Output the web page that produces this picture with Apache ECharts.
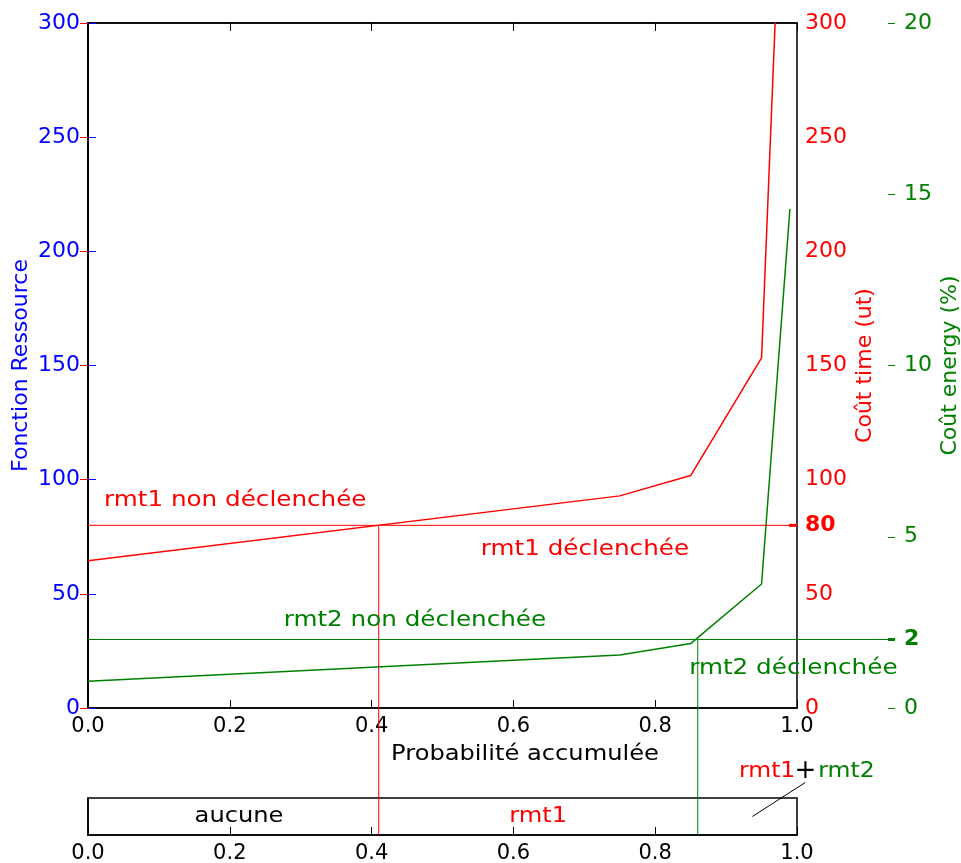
<!DOCTYPE html>
<html>
<head>
<meta charset="utf-8">
<script src="https://cdn.jsdelivr.net/npm/echarts@6/dist/echarts.min.js"></script>
<style>html,body{margin:0;padding:0;background:#fff;}#c{width:961px;height:863px;}</style>
</head>
<body>
<div id="c"></div>
<script>
// ---- data ----
const probs = [0, 0.75, 0.85, 0.95, 0.99];
const timeCost = [64.5, 92.9, 101.8, 153.3, 460];
const energyCost = [0.78, 1.55, 1.88, 3.62, 14.57];
const xTicks = [0, 0.2, 0.4, 0.6, 0.8, 1.0];
const rmt1Threshold = 80;   // time cost threshold (ut)
const rmt2Threshold = 2;    // energy cost threshold (%)
const rmt1Prob = 0.41;
const rmt2Prob = 0.86;
const zoneLabels = ['aucune', 'rmt1'];
const zoneCenters = [0.213, 0.635];
const bothAnchor = [0.937, 0.5];

const BLUE = '#0000ff', RED = '#ff0000', GREEN = '#008000', FONT = 'DejaVu Sans';
const GREEN_OFFSET = 91;

const chart = echarts.init(document.getElementById('c'), null, {renderer: 'canvas'});

function xAxisBase(grid, pos, showLabel) {
  return {
    type: 'value', gridIndex: grid, position: pos, min: xTicks[0], max: xTicks[xTicks.length - 1], interval: 0.2,
    axisLine: {show: true, onZero: false, lineStyle: {color: '#000', width: 1.5}},
    axisTick: {show: true, inside: true, length: 8, lineStyle: {color: '#000'}},
    axisLabel: {show: showLabel, color: '#000', fontSize: 21, fontFamily: FONT, margin: 8,
      formatter: v => v.toFixed(1)},
    splitLine: {show: false}
  };
}

const option = {
  animation: false,
  backgroundColor: '#fff',
  grid: [
    {left: 88, top: 23, width: 709, height: 685, show: true, borderColor: '#000', borderWidth: 1.5,
      containLabel: false, outerBoundsMode: 'none'},
    {left: 88, top: 798, width: 709, height: 37, show: true, borderColor: '#000', borderWidth: 1.5,
      containLabel: false, outerBoundsMode: 'none'}
  ],
  xAxis: [
    xAxisBase(0, 'bottom', true),
    xAxisBase(0, 'top', false),
    xAxisBase(1, 'bottom', true)
  ],
  yAxis: [
    {type: 'value', gridIndex: 0, position: 'left', min: 0, max: 300, interval: 50,
      name: 'Fonction Ressource', nameLocation: 'middle', nameGap: 56, nameMoveOverlap: false,
      nameTextStyle: {color: BLUE, fontSize: 22, fontFamily: FONT},
      axisLine: {show: true, lineStyle: {color: '#000', width: 1.5}},
      axisTick: {show: true, inside: true, length: 8, lineStyle: {color: BLUE, width: 1}},
      axisLabel: {color: BLUE, fontSize: 22, fontFamily: FONT, margin: 8},
      splitLine: {show: false}},
    {type: 'value', gridIndex: 0, position: 'right', min: 0, max: 300, interval: 50,
      name: 'Coût time (ut)', nameLocation: 'middle', nameGap: 57, nameMoveOverlap: false,
      nameTextStyle: {color: RED, fontSize: 22, fontFamily: FONT},
      axisLine: {show: true, lineStyle: {color: '#000', width: 1.5}},
      axisTick: {show: true, inside: true, length: 8, lineStyle: {color: RED, width: 1}},
      axisLabel: {color: RED, fontSize: 22, fontFamily: FONT, margin: 8},
      splitLine: {show: false}},
    {type: 'value', gridIndex: 0, position: 'right', offset: GREEN_OFFSET, min: 0, max: 20, interval: 5,
      name: 'Coût energy (%)', nameLocation: 'middle', nameGap: 51, nameMoveOverlap: false,
      nameTextStyle: {color: GREEN, fontSize: 22, fontFamily: FONT},
      axisLine: {show: false},
      axisTick: {show: true, inside: false, length: 7, lineStyle: {color: GREEN, width: 1}},
      axisLabel: {color: GREEN, fontSize: 22, fontFamily: FONT, margin: 16},
      splitLine: {show: false}},
    {type: 'value', gridIndex: 1, min: 0, max: 1,
      axisLine: {show: true, lineStyle: {color: '#000', width: 1.5}},
      axisTick: {show: false}, axisLabel: {show: false}, splitLine: {show: false}}
  ],
  series: [
    {name: 'time', type: 'line', xAxisIndex: 0, yAxisIndex: 1, showSymbol: false, clip: true,
      lineStyle: {color: RED, width: 1.5}, itemStyle: {color: RED},
      data: probs.map((p, i) => [p, timeCost[i]])},
    {name: 'energy', type: 'line', xAxisIndex: 0, yAxisIndex: 2, showSymbol: false, clip: true,
      lineStyle: {color: GREEN, width: 1.5}, itemStyle: {color: GREEN},
      data: probs.map((p, i) => [p, energyCost[i]])}
  ]
};
chart.setOption(option);

// ---- overlays positioned through the chart's own scales ----
const px = (xi, yi, v) => chart.convertToPixel({xAxisIndex: xi, yAxisIndex: yi}, v);
const g = [];
const red80L = px(0, 1, [0, rmt1Threshold]);
const red80R = px(0, 1, [1, rmt1Threshold]);
const red80X = px(0, 1, [rmt1Prob, rmt1Threshold]);
const redBot = px(2, 3, [rmt1Prob, 0]);
const gr2L = px(0, 2, [0, rmt2Threshold]);
const gr2R = px(0, 2, [1, rmt2Threshold]);
const gr2X = px(0, 2, [rmt2Prob, rmt2Threshold]);
const grBot = px(2, 3, [rmt2Prob, 0]);
const greenAxisX = gr2R[0] + GREEN_OFFSET;

function line(x1, y1, x2, y2, color, w) {
  g.push({type: 'line', silent: true, z: 50, shape: {x1, y1, x2, y2}, style: {stroke: color, lineWidth: w}});
}
function text(x, y, s, color, opts) {
  opts = opts || {};
  g.push({type: 'text', silent: true, z: 60, x, y, scaleX: opts.sx || 1,
    style: {text: s, fill: color, fontSize: opts.size || 21, fontFamily: FONT, fontWeight: opts.bold ? 'bold' : 'normal',
      align: opts.align || 'left', verticalAlign: 'middle'}});
}

// threshold lines
line(red80L[0], red80L[1], red80R[0], red80R[1], RED, 1);
line(red80X[0], red80X[1], redBot[0], redBot[1], RED, 1);
line(gr2L[0], gr2L[1], greenAxisX, gr2R[1], GREEN, 1);
line(gr2X[0], gr2X[1], grBot[0], grBot[1], GREEN, 1);
// emphasised ticks
g.push({type: 'rect', silent: true, z: 55, shape: {x: red80R[0] - 8, y: red80R[1] - 1.5, width: 8, height: 3}, style: {fill: RED}});
g.push({type: 'rect', silent: true, z: 55, shape: {x: greenAxisX, y: gr2R[1] - 1.5, width: 7, height: 3}, style: {fill: GREEN}});
text(red80R[0] + 8, red80R[1], String(rmt1Threshold), RED, {size: 22, bold: true});
text(greenAxisX + 16, gr2R[1], String(rmt2Threshold), GREEN, {size: 22, bold: true});

// annotations
const sx = 1.12;
let p;
p = px(0, 1, [0.0226, 91]); text(p[0], p[1], 'rmt1 non déclenchée', RED, {sx, size: 22});
p = px(0, 1, [0.554, 69.6]); text(p[0], p[1], 'rmt1 déclenchée', RED, {sx, size: 22});
p = px(0, 2, [0.276, 2.57]); text(p[0], p[1], 'rmt2 non déclenchée', GREEN, {sx, size: 22});
p = px(0, 2, [0.848, 1.17]); text(p[0], p[1], 'rmt2 déclenchée', GREEN, {sx, size: 22});

// x axis title
const xa0 = px(0, 1, [0, 0]);
text(xa0[0] + 437, xa0[1] + 47, 'Probabilité accumulée', '#000', {sx: 1.15, align: 'center'});

// zone labels in the strip
zoneLabels.forEach((s, i) => {
  const q = px(2, 3, [zoneCenters[i], 0.5]);
  text(q[0], q[1], s, i === 0 ? '#000' : RED, {sx: 1.15, align: 'center'});
});
const a = px(2, 3, bothAnchor);
line(a[0], a[1], a[0] + 53, a[1] - 34, '#000', 1);
text(a[0] + 53, a[1] - 45, '+', '#000', {size: 26, align: 'center'});
text(a[0] + 43, a[1] - 45, 'rmt1', RED, {sx: 1.12, align: 'right'});
text(a[0] + 66, a[1] - 45, 'rmt2', GREEN, {sx: 1.12});

chart.setOption({graphic: {elements: g}});
</script>
</body>
</html>
